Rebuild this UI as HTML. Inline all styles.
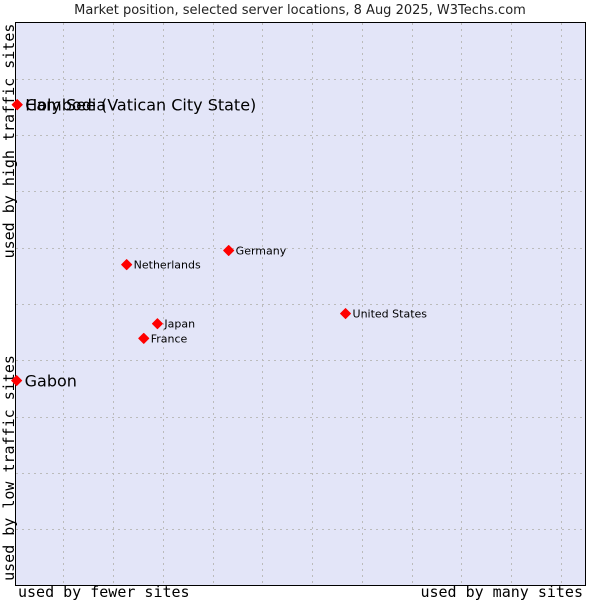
<!DOCTYPE html>
<html><head><meta charset="utf-8"><style>
body{margin:0;background:#fff;width:600px;height:600px;overflow:hidden}
svg{display:block}
</style></head><body>
<svg id="c" width="600" height="600" xmlns="http://www.w3.org/2000/svg">
<text x="300" y="14" text-anchor="middle" font-family="DejaVu Sans, sans-serif" font-size="13" fill="#222">Market position, selected server locations, 8 Aug 2025, W3Techs.com</text>
<rect x="15.5" y="22.5" width="570" height="563" fill="#e3e5f8" stroke="#000" stroke-width="1"/>
<g id="grid"></g>
<text transform="translate(14,141) rotate(-90)" text-anchor="middle" font-family="DejaVu Sans Mono, monospace" font-size="15" fill="#000">used by high traffic sites</text>
<text transform="translate(14,468) rotate(-90)" text-anchor="middle" font-family="DejaVu Sans Mono, monospace" font-size="15" fill="#000">used by low traffic sites</text>
<text x="18" y="597" font-family="DejaVu Sans Mono, monospace" font-size="15" fill="#000">used by fewer sites</text>
<text x="583" y="597" text-anchor="end" font-family="DejaVu Sans Mono, monospace" font-size="15" fill="#000">used by many sites</text>
<g id="pts"></g>
</svg>
<script>
const names = ["Holy See (Vatican City State)","Cambodia","Gabon","Netherlands","Germany","Japan","France","United States"];
const xVals = [0.3,0.3,0.2,19.5,37.4,24.9,22.5,57.9];
const yVals = [85.4,85.4,36.4,57.0,59.5,46.5,43.9,48.3];
const bigLabel = [true,true,true,false,false,false,false,false];
const xGridVals = [8.4,17.1,25.9,34.6,43.3,52.1,60.8,69.5,78.2,87.0,95.7];
const yGridVals = [10,20,30,40,50,60,70,80,90];
const NS="http://www.w3.org/2000/svg";
const X=v=>15.5+v/100*570, Y=v=>585.5-v/100*563;
const grid=document.getElementById('grid'), pts=document.getElementById('pts');
xGridVals.forEach(v=>{const l=document.createElementNS(NS,'line');


const x=Math.round(X(v))+0.5;l.setAttribute('x1',x);l.setAttribute('x2',x);l.setAttribute('y1',23);l.setAttribute('y2',585);
l.setAttribute('stroke','#bbb');l.setAttribute('stroke-dasharray','2,4');grid.appendChild(l);});
yGridVals.forEach(v=>{const l=document.createElementNS(NS,'line');


const y=Math.round(Y(v))+0.5;l.setAttribute('y1',y);l.setAttribute('y2',y);l.setAttribute('x1',16);l.setAttribute('x2',585);
l.setAttribute('stroke','#bbb');l.setAttribute('stroke-dasharray','2,4');grid.appendChild(l);});
names.forEach((n,i)=>{const x=X(xVals[i]),y=Y(yVals[i]);
const d=document.createElementNS(NS,'polygon');


d.setAttribute('points',`${x},${y-5} ${x+5},${y} ${x},${y+5} ${x-5},${y}`);
d.setAttribute('fill','#f00');d.setAttribute('stroke','#f00');d.setAttribute('stroke-linejoin','round');pts.appendChild(d);
const t=document.createElementNS(NS,'text');


t.setAttribute('x',x+(bigLabel[i]?8:7));t.setAttribute('y',y+(bigLabel[i]?6:4));
t.setAttribute('font-family','DejaVu Sans, sans-serif');t.setAttribute('font-size',bigLabel[i]?16:11);
t.setAttribute('fill','#000');t.textContent=n;pts.appendChild(t);});
</script>
</body></html>
